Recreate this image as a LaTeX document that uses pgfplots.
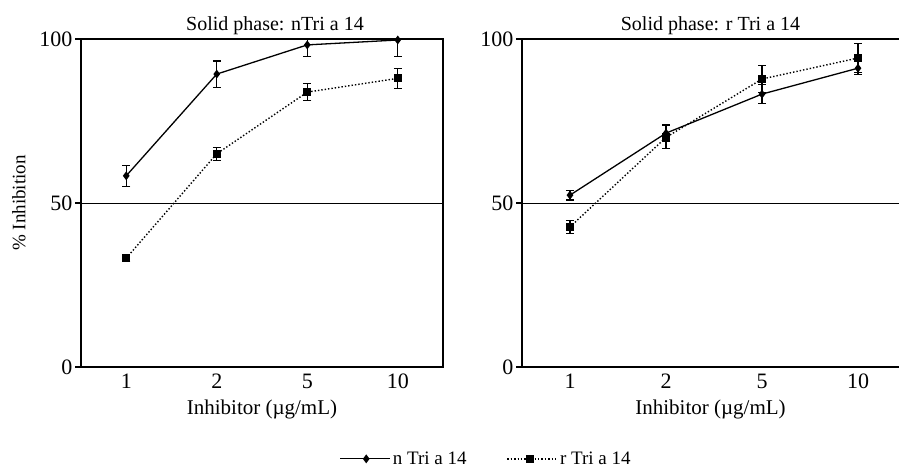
\documentclass[border=0pt]{standalone}
\usepackage{fontspec}
\setmainfont{Liberation Serif}
\usepackage{pgfplots}
\pgfplotsset{compat=1.18}

\pgfplotsset{
  panel/.style={
    scale only axis,
    height=328pt,
    ymin=0, ymax=100,
    ytick={0,50,100},
    xmin=-0.5,
    xtick={0,1,2,3},
    xticklabels={1,2,5,10},
    minor xtick={-0.5,0.5,1.5,2.5,3.5},
    tick align=outside,
    xtick pos=bottom, ytick pos=left,
    major tick length=6pt,
    xtick style={draw=none},
    minor tick length=6pt,
    minor tick style={black, line width=1.4pt},
    extra y ticks={50},
    extra y tick labels={},
    extra y tick style={grid=major, major grid style={black, line width=0.8pt}},
    axis line style={line width=1.5pt},
    ytick style={black, line width=1.4pt},
    tick label style={font=\fontsize{22}{26}\selectfont},
    yticklabel style={xshift=1pt},
    xticklabel style={yshift=0pt, inner ysep=1pt},
    label style={font=\fontsize{21}{25}\selectfont},
    title style={font=\fontsize{20}{24}\selectfont, yshift=-5pt},
    /pgf/number format/assume math mode=true,
    xlabel={Inhibitor (µg/mL)},
    xlabel style={yshift=-9pt, inner ysep=1pt},
  },
  ntrileg/.style={legend image code/.code={%
    \draw[##1] (0pt,0pt) -- (50pt,0pt);
    \draw[##1,solid] plot coordinates {(26pt,0pt)};}},
  rtrileg/.style={legend image code/.code={%
    \path (0pt,0pt) -- (50pt,0pt);
    \draw[##1] (0pt,0pt) -- (25pt,0pt);
    \draw[##1,solid] plot coordinates {(23pt,0pt)};}},
  ntri/.style={ntrileg, black, line width=1.3pt, mark=diamond*, mark size=3.4pt,
    mark options={solid},
    error bars/.cd, y dir=both, y explicit,
    error mark options={black, line width=1.1pt, mark size=4pt, rotate=90},
    error bar style={line width=1.1pt}},
  rtri/.style={rtrileg, black, line width=1.4pt, dotted, mark=square*, mark size=3.2pt,
    mark options={solid},
    error bars/.cd, y dir=both, y explicit,
    error mark options={black, solid, line width=1.1pt, mark size=4pt, rotate=90},
    error bar style={solid, line width=1.1pt}},
}

\begin{document}
\begin{tikzpicture}
\useasboundingbox (0,0) rectangle (899pt,469pt);

\begin{axis}[panel,
  at={(81pt,102pt)}, anchor=south west,
  width=362pt, xmax=3.5,
  title={Solid phase: nTri a 14},
  title style={xshift=13pt},
  ylabel={\% Inhibition},
  ylabel style={font=\fontsize{19}{23}\selectfont, yshift=-5pt},
  legend columns=2,
  legend style={draw=none, at={(1.119,-0.28)}, anchor=center,
    font=\fontsize{19}{23}\selectfont,
    /tikz/every even column/.append style={column sep=38pt}},
]
\addplot+[ntri] coordinates {
  (0,58.3) +- (0,3.2)
  (1,89.3) +- (0,4)
  (2,98.2) +- (0,3.5)
  (3,99.7) +- (0,5)
};
\addplot+[rtri] coordinates {
  (0,33.2) +- (0,1)
  (1,65.0) +- (0,2)
  (2,83.8) +- (0,2.5)
  (3,88.0) +- (0,3)
};
\legend{n Tri a 14, r Tri a 14}
\end{axis}

\begin{axis}[panel,
  at={(522pt,102pt)}, anchor=south west,
  width=377pt, xmax=3.427,
  axis x line*=box, axis y line*=left,
  title={Solid phase: r Tri a 14},
]
\addplot+[ntri] coordinates {
  (0,52.4) +- (0,1.5)
  (1,71.3) +- (0,2.5)
  (2,83.2) +- (0,3)
  (3,91.1) +- (0,2)
};
\addplot+[rtri] coordinates {
  (0,42.7) +- (0,2)
  (1,70.0) +- (0,3.5)
  (2,87.8) +- (0,4)
  (3,94.2) +- (0,4.5)
};
\end{axis}
\end{tikzpicture}
\end{document}
